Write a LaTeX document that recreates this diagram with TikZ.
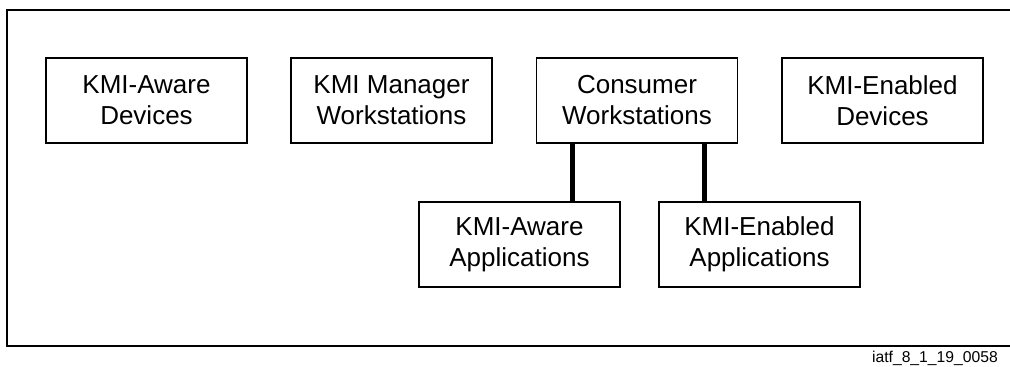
\documentclass[tikz,border=0pt]{standalone}
\usepackage{fontspec}
\setmainfont{Liberation Sans}
\begin{document}
\begin{tikzpicture}[x=1pt,y=-1pt,
  box/.style={draw=black,line width=1.8pt,minimum width=201pt,minimum height=85pt,inner sep=0pt,align=center,font=\fontsize{26}{31}\selectfont},
  link/.style={line width=4.5pt}]
\useasboundingbox (0,0) rectangle (1010,367);
\draw[line width=1.8pt] (1010,10) -- (7,10) -- (7,346) -- (1010,346);
\node[box] (kad) at (146.5,100.5) {KMI-Aware\\Devices};
\node[box] (kmw) at (391.5,100.5) {KMI Manager\\Workstations};
\node[box] (cw) at (637,100.5) {Consumer\\Workstations};
\node[box] (ked) at (882.5,100.5) {KMI-Enabled\\Devices};
\node[box] (kaa) at (519.5,244.5) {KMI-Aware\\Applications};
\node[box] (kea) at (759.5,244.5) {KMI-Enabled\\Applications};
\draw[link] ([xshift=37pt]cw.south west) coordinate (c1) -- (c1 |- kaa.north);
\draw[link] ([xshift=-34pt]cw.south east) coordinate (c2) -- (c2 |- kea.north);
\node[anchor=base east,font=\fontsize{15.7}{18}\selectfont,inner sep=0pt] (lbl) at (998,362) {iatf\_8\_1\_19\_0058};
\end{tikzpicture}
\end{document}
